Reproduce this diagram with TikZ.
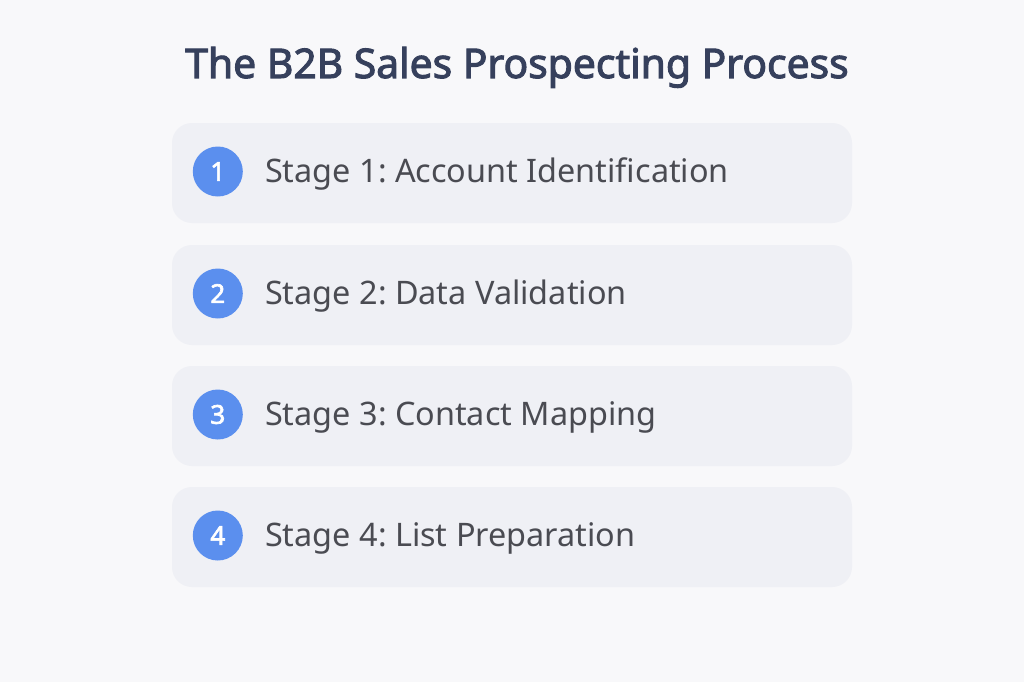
\documentclass[tikz,border=0pt]{standalone}
\usepackage{fontspec}
\setmainfont{Noto Sans}[AutoFakeBold=2.5]
\usetikzlibrary{positioning,calc}
\frenchspacing
\definecolor{bgcol}{HTML}{F8F8FA}
\definecolor{boxcol}{HTML}{EFF0F5}
\definecolor{bluecol}{HTML}{5B8FEE}
\definecolor{titlecol}{HTML}{36405C}
\definecolor{textcol}{HTML}{4A4B52}
\tikzset{
stagebox/.style={fill=boxcol,rounded corners=20pt,minimum width=680pt,minimum height=100pt,inner sep=0pt},
stagenum/.style={circle,fill=bluecol,minimum size=50pt,inner sep=0pt,text=white,font=\fontsize{26}{30}\selectfont\bfseries},
stagetext/.style={text=textcol,font=\fontsize{32.4}{36}\selectfont,inner sep=0pt,anchor=base west}
}

\begin{document}
\begin{tikzpicture}[x=1pt,y=-1pt]
		\fill[bgcol] (0,0) rectangle (1024,682);
		\useasboundingbox (0,0) rectangle (1024,682);
		
		\node[text=titlecol,font=\fontsize{40.8}{46}\selectfont\bfseries,anchor=base] (title) at (517,78) {The B2B Sales Prospecting Process};
		
		\node[stagebox] (box1) at (512,173) {};
		\node[stagebox] (box2) at (512,295) {};
		\node[stagebox] (box3) at (512,416) {};
		\node[stagebox] (box4) at (512,537) {};
		
		\node[stagenum] (num1) at ([xshift=46pt,yshift=1.5pt]box1.west) {1};
		\node[stagenum] (num2) at ([xshift=46pt,yshift=1.5pt]box2.west) {2};
		\node[stagenum] (num3) at ([xshift=46pt,yshift=1.5pt]box3.west) {3};
		\node[stagenum] (num4) at ([xshift=46pt,yshift=1.5pt]box4.west) {4};
		
		\node[stagetext] (txt1) at ([xshift=22pt,yshift=-11pt]num1.east) {Stage 1: Account Identification};
		\node[stagetext] (txt2) at ([xshift=22pt,yshift=-11pt]num2.east) {Stage 2: Data Validation};
		\node[stagetext] (txt3) at ([xshift=22pt,yshift=-11pt]num3.east) {Stage 3: Contact Mapping};
		\node[stagetext] (txt4) at ([xshift=22pt,yshift=-11pt]num4.east) {Stage 4: List Preparation};
	\end{tikzpicture}
\end{document}
